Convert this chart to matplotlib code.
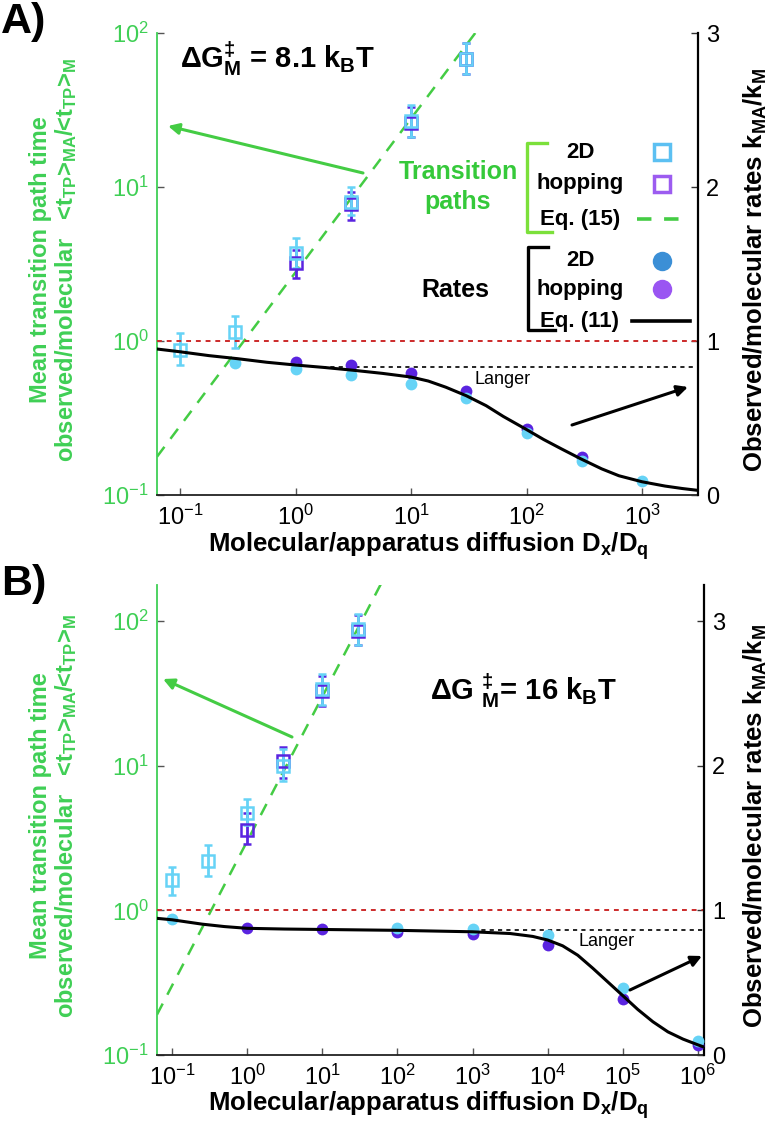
import numpy as np
import matplotlib
matplotlib.use("Agg")
import matplotlib.pyplot as plt
from matplotlib.lines import Line2D
from matplotlib.patches import FancyArrowPatch
from matplotlib.ticker import NullLocator, LogLocator

plt.rcParams['font.family'] = ['Liberation Sans', 'DejaVu Sans']
plt.rcParams['mathtext.fontset'] = 'custom'
plt.rcParams['mathtext.rm'] = 'Liberation Sans:bold'
plt.rcParams['mathtext.it'] = 'Liberation Sans:bold'
plt.rcParams['mathtext.bf'] = 'Liberation Sans:bold'
plt.rcParams['mathtext.sf'] = 'Liberation Sans:bold'

GREEN = '#3fcf55'
GREEN_TXT = '#35c93a'
LIME = '#7be03a'
CYAN = '#66d3f6'
PURPLE = '#5a24e0'
RED = '#cc2a2a'

# ---------------- panel A data ----------------
a_tp2d_x = [0.1, 0.3, 1, 3, 10, 30]
a_tp2d_y = [0.875, 1.14, 3.7, 8.0, 27, 68]
a_tp2d_lo = [0.70, 0.90, 2.98, 6.6, 21, 54]
a_tp2d_hi = [1.13, 1.45, 4.67, 10.0, 34, 86]

a_tphop_x = [1, 3, 10, 30]
a_tphop_y = [3.2, 7.8, 26, 68]
a_tphop_lo = [2.56, 6.1, 21, 54]
a_tphop_hi = [3.9, 9.3, 33, 86]

a_eq15_x = [0.063, 36]
a_eq15_y = [0.177, 100]

a_rate2d_x = [0.3, 1, 3, 10, 30, 100, 300, 1000]
a_rate2d_y = [0.857, 0.82, 0.78, 0.72, 0.63, 0.40, 0.22, 0.09]
a_ratehop_x = [1, 3, 10, 30, 100, 300]
a_ratehop_y = [0.864, 0.844, 0.79, 0.675, 0.43, 0.247]

a_eq11_x = [0.063, 0.1, 0.178, 0.316, 0.562, 1, 1.78, 3.16, 5.62, 10, 14.1, 20,
            30, 44.7, 63, 100, 141, 200, 295, 447, 631, 1000, 1585, 2239, 3055]
a_eq11_y = [0.948, 0.93, 0.905, 0.885, 0.862, 0.844, 0.828, 0.81, 0.79, 0.766,
            0.74, 0.70, 0.645, 0.58, 0.51, 0.425, 0.36, 0.30, 0.235, 0.17,
            0.125, 0.086, 0.058, 0.042, 0.03]
a_langer = 0.83
a_langer_from = 1.7

# ---------------- panel B data ----------------
b_tp2d_x = [0.1, 0.3, 1, 3, 10, 30]
b_tp2d_y = [1.61, 2.21, 4.7, 10, 34, 88]
b_tp2d_lo = [1.27, 1.74, 3.9, 7.8, 26.3, 68]
b_tp2d_hi = [2.01, 2.81, 5.9, 13.0, 43, 112]

b_tphop_x = [1, 3, 10, 30]
b_tphop_y = [3.6, 10.8, 33, 86]
b_tphop_lo = [2.9, 8.2, 26, 68]
b_tphop_hi = [4.7, 13.5, 42, 110]

b_eq15_x = [0.063, 60]
b_eq15_y = [0.19, 180]

b_rate2d_x = [0.1, 100, 1000, 1e4, 1e5, 1e6]
b_rate2d_y = [0.94, 0.88, 0.87, 0.83, 0.46, 0.10]
b_ratehop_x = [1, 10, 100, 1000, 1e4, 1e5, 1e6]
b_ratehop_y = [0.876, 0.87, 0.85, 0.84, 0.76, 0.39, 0.07]

b_eq11_x = [0.063, 0.1, 0.25, 0.5, 1, 3.16, 10, 100, 1000, 3162, 6310, 1e4,
            1.58e4, 2.51e4, 3.98e4, 6.31e4, 1e5, 1.58e5, 2.51e5, 3.98e5,
            6.31e5, 1e6, 1.2e6]
b_eq11_y = [0.945, 0.935, 0.905, 0.888, 0.876, 0.871, 0.868, 0.862, 0.852,
            0.84, 0.82, 0.795, 0.755, 0.69, 0.60, 0.505, 0.41, 0.315, 0.23,
            0.16, 0.11, 0.07, 0.055]
b_langer = 0.862
b_langer_from = 1000

W, H = 780, 1138
fig = plt.figure(figsize=(W / 100, H / 100), dpi=100)


def fx(px):
    return px / W


def fy(py):
    return 1 - py / H


def panel(rect, xlim, ylim_log, ylim_lin, tp2d, tphop, eq15, r2d, rhop, eq11,
          langer, langer_from):
    ax = fig.add_axes(rect)
    ax.set_xscale('log')
    ax.set_yscale('log')
    ax.set_xlim(*xlim)
    ax.set_ylim(*ylim_log)
    ax2 = ax.twinx()
    ax2.set_ylim(*ylim_lin)

    # transition path times
    ax.plot(eq15[0], eq15[1], color='#44cc44', lw=1.8, dashes=(5, 4), zorder=2)
    for (xs, ys, lo, hi), c in ((tphop, PURPLE), (tp2d, CYAN)):
        ys = np.array(ys)
        err = [ys - np.array(lo), np.array(hi) - ys]
        ax.errorbar(xs, ys, yerr=err, fmt='s', mfc='none', mec=c, mew=1.8,
                    ms=8.5, ecolor=c, elinewidth=2, capsize=3, capthick=2,
                    zorder=3)

    # rates
    ax2.axhline(1.0, color=RED, lw=1.4, dashes=(2.5, 2.5))
    ax2.plot([langer_from, xlim[1]], [langer, langer], color='black', lw=1.2,
             dashes=(2.5, 2.5))
    ax2.plot(rhop[0], rhop[1], 'o', color=PURPLE, ms=8.5, mec='none', zorder=3)
    ax2.plot(r2d[0], r2d[1], 'o', color=CYAN, ms=8.5, mec='none', zorder=3)
    ax2.plot(eq11[0], eq11[1], color='black', lw=2.2, zorder=4)

    for a in (ax, ax2):
        a.spines['top'].set_visible(False)
        a.tick_params(direction='in', length=5, width=1, labelsize=17)
    ax2.spines['left'].set_visible(False)
    ax2.spines['bottom'].set_visible(False)
    ax.spines['right'].set_visible(False)
    ax.spines['left'].set_color(GREEN)
    ax.spines['left'].set_linewidth(1.3)
    ax.spines['bottom'].set_linewidth(1.3)
    ax2.spines['right'].set_linewidth(1.6)
    ax.spines['bottom'].set_color('#222222')
    ax.xaxis.set_major_locator(LogLocator(base=10, numticks=20))
    ax.xaxis.set_minor_locator(NullLocator())
    ax.yaxis.set_minor_locator(NullLocator())
    ax.tick_params(axis='y', colors='#555555', labelcolor=GREEN, pad=6)
    ax.tick_params(axis='x', colors='#555555', labelcolor='black', pad=7)
    ax2.set_yticks([0, 1, 2, 3])
    ax2.tick_params(axis='y', colors='#333333', labelcolor='black', pad=6)
    return ax, ax2


panel([fx(157), fy(495), (698 - 157) / W, (495 - 33) / H],
      (10 ** -1.2, 10 ** 3.485), (0.1, 100), (0, 3),
      (a_tp2d_x, a_tp2d_y, a_tp2d_lo, a_tp2d_hi),
      (a_tphop_x, a_tphop_y, a_tphop_lo, a_tphop_hi),
      (a_eq15_x, a_eq15_y), (a_rate2d_x, a_rate2d_y),
      (a_ratehop_x, a_ratehop_y), (a_eq11_x, a_eq11_y), a_langer, a_langer_from)

panel([fx(157), fy(1055), (704 - 157) / W, (1055 - 585) / H],
      (10 ** -1.2, 10 ** 6.08), (0.1, 10 ** 2.25), (0, 3.25),
      (b_tp2d_x, b_tp2d_y, b_tp2d_lo, b_tp2d_hi),
      (b_tphop_x, b_tphop_y, b_tphop_lo, b_tphop_hi),
      (b_eq15_x, b_eq15_y), (b_rate2d_x, b_rate2d_y),
      (b_ratehop_x, b_ratehop_y), (b_eq11_x, b_eq11_y), b_langer, b_langer_from)

# ---------------- text ----------------
left_lab = ('Mean transition path time\n'
            'observed/molecular   <t$_{TP}$>$_{MA}$/<t$_{TP}$>$_M$')
right_lab = 'Observed/molecular rates k$_{MA}$/k$_M$'
x_lab = 'Molecular/apparatus diffusion D$_x$/D$_q$'

for top, bot, xl_y in ((33, 495, 546), (585, 1055, 1105)):
    mid = (top + bot) / 2
    fig.text(fx(54), fy(mid - 4), left_lab, rotation=90, ha='center',
             va='center', multialignment='center', color=GREEN, fontsize=17,
             fontweight='bold', linespacing=1.05)
    fig.text(fx(755), fy(mid + 6), right_lab, rotation=90, ha='center',
             va='center', fontsize=18.5, fontweight='bold')
    fig.text(fx(428), fy(xl_y), x_lab, ha='center', va='center', fontsize=18.5,
             fontweight='bold')

fig.text(fx(1), fy(2), 'A)', ha='left', va='top', fontsize=31,
         fontweight='bold')
fig.text(fx(1), fy(564), 'B)', ha='left', va='top', fontsize=31,
         fontweight='bold')

fig.text(fx(180), fy(68), r'$\Delta$G$_M^{\ddagger}$ = 8.1 k$_B$T',
         fontsize=21, fontweight='bold', va='baseline')
fig.text(fx(430), fy(700), r'$\Delta$G $_M^{\ddagger}$= 16 k$_B$T',
         fontsize=21, fontweight='bold', va='baseline')

fig.text(fx(458), fy(172), 'Transition', ha='center', va='center',
         color=GREEN_TXT, fontsize=18, fontweight='bold')
fig.text(fx(458), fy(202), 'paths', ha='center', va='center',
         color=GREEN_TXT, fontsize=18, fontweight='bold')
fig.text(fx(455), fy(290), 'Rates', ha='center', va='center',
         fontsize=18, fontweight='bold')

for lab, py in (('2D', 152), ('hopping', 184), ('Eq. (15)', 219),
                ('2D', 261), ('hopping', 289), ('Eq. (11)', 321)):
    fig.text(fx(580), fy(py), lab, ha='center', va='center', fontsize=16,
             fontweight='bold')

fig.add_artist(Line2D([fx(547), fx(527), fx(527), fx(552)],
                      [fy(143), fy(143), fy(232), fy(232)],
                      transform=fig.transFigure, color=LIME, lw=2.4))
fig.add_artist(Line2D([fx(548), fx(528), fx(528), fx(555)],
                      [fy(247), fy(247), fy(330), fy(330)],
                      transform=fig.transFigure, color='black', lw=2.4))
fig.add_artist(Line2D([fx(662)], [fy(152)], transform=fig.transFigure,
                      marker='s', ms=12, mfc='none', mec='#5cc0f2', mew=2.5))
fig.add_artist(Line2D([fx(662)], [fy(184)], transform=fig.transFigure,
                      marker='s', ms=12, mfc='none', mec='#9c5cf0', mew=2.5))
fig.add_artist(Line2D([fx(637), fx(687)], [fy(219), fy(219)],
                      transform=fig.transFigure, color='#44cc44', lw=2.6,
                      dashes=(4, 3.5)))
fig.add_artist(Line2D([fx(662)], [fy(261)], transform=fig.transFigure,
                      marker='o', ms=14, color='#3b8fd6', mec='none'))
fig.add_artist(Line2D([fx(662)], [fy(289)], transform=fig.transFigure,
                      marker='o', ms=14, color='#9a55f2', mec='none'))
fig.add_artist(Line2D([fx(632), fx(690)], [fy(321), fy(321)],
                      transform=fig.transFigure, color='black', lw=2.6))

fig.text(fx(475), fy(379), 'Langer', fontsize=13, va='center')
fig.text(fx(579), fy(942), 'Langer', fontsize=13, va='center')

for (x0, y0, x1, y1, c) in ((363, 173, 168, 126, '#44cc44'),
                            (572, 425, 688, 387, 'black'),
                            (292, 737, 163, 679, '#44cc44'),
                            (630, 990, 702, 956, 'black')):
    fig.add_artist(FancyArrowPatch(
        (fx(x0), fy(y0)), (fx(x1), fy(y1)), transform=fig.transFigure,
        arrowstyle='-|>', mutation_scale=16, lw=2.2, color=c,
        shrinkA=0, shrinkB=0))

fig.savefig('out.png', dpi=100)
